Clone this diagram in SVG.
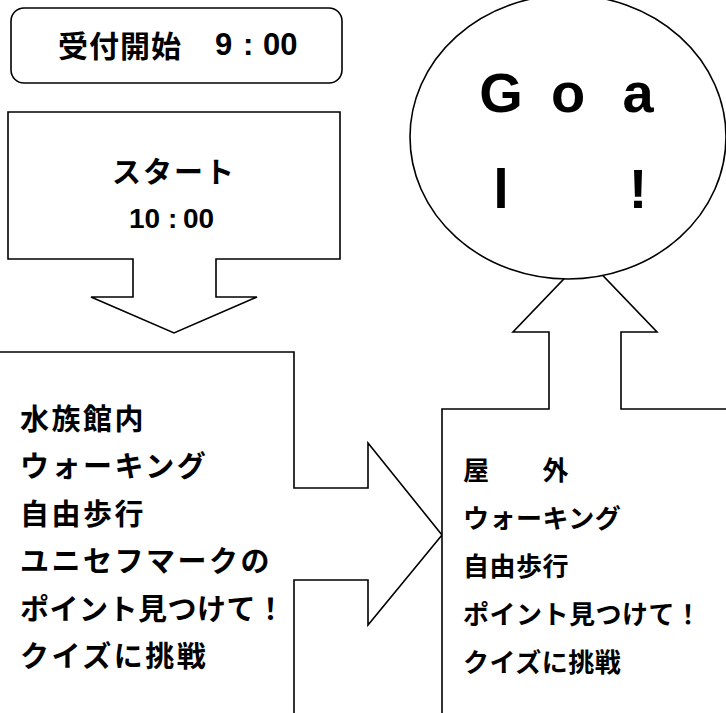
<svg xmlns="http://www.w3.org/2000/svg" width="726" height="713" viewBox="0 0 726 713">
<style>
.shape{fill:#fff;stroke:#000;stroke-width:1.6;stroke-linejoin:miter}
.jp{font-family:"Noto Sans CJK JP","Noto Sans CJK SC",sans-serif;font-weight:bold;fill:#000}
.lat{font-family:"Liberation Sans",Arial,sans-serif;fill:#000}
</style>
<rect width="726" height="713" fill="#fff"/>
<g id="reception">
<rect class="shape" x="11" y="8" width="331" height="75" rx="13" ry="13"/>
<text class="jp" x="58" y="57" font-size="30" letter-spacing="1">受付開始</text>
<text class="lat" font-size="31" font-weight="bold" y="55"><tspan x="215">9</tspan><tspan x="243">:</tspan><tspan x="263">00</tspan></text>
</g>
<g id="start">
<polygon class="shape" points="8,112 340,112 340,259 216,259 216,297 257,297 174,333 91,297 133,297 133,259 8,259"/>
<text class="jp" x="112" y="183" font-size="29" letter-spacing="2">スタート</text>
<text class="lat" font-size="28" font-weight="bold" y="228"><tspan x="129">10</tspan><tspan x="168">:</tspan><tspan x="183">00</tspan></text>
</g>
<g id="indoor">
<polygon class="shape" points="-3,352 294,352 294,488 368,488 368,443 442,535 368,625 368,580 294,580 294,720 -3,720"/>
<g class="jp" font-size="29" letter-spacing="2.5">
<text x="20" y="430">水族館内</text>
<text x="20" y="477">ウォーキング</text>
<text x="20" y="525">自由歩行</text>
<text x="20" y="572">ユニセフマークの</text>
<text x="20" y="620" letter-spacing="0.5">ポイント見つけて！</text>
<text x="20" y="667">クイズに挑戦</text>
</g>
</g>
<g id="outdoor">
<polygon class="shape" points="442,409 549,409 549,332 513,332 585,257 657,332 621,332 621,409 730,409 730,720 442,720"/>
<g class="jp" font-size="26" letter-spacing="0.5">
<text x="463" y="480">屋　　外</text>
<text x="463" y="528">ウォーキング</text>
<text x="463" y="576">自由歩行</text>
<text x="463" y="624">ポイント見つけて！</text>
<text x="463" y="672">クイズに挑戦</text>
</g>
</g>
<g id="goal">
<ellipse class="shape" cx="568" cy="137" rx="158" ry="142"/>
<text class="lat" font-size="56" font-weight="bold" text-anchor="middle" y="112"><tspan x="501">G</tspan><tspan x="568">o</tspan><tspan x="638">a</tspan></text>
<text class="lat" font-size="56" font-weight="bold" text-anchor="middle" y="208"><tspan x="501">l</tspan><tspan x="638">!</tspan></text>
</g>
<g id="connectors"/>
</svg>
